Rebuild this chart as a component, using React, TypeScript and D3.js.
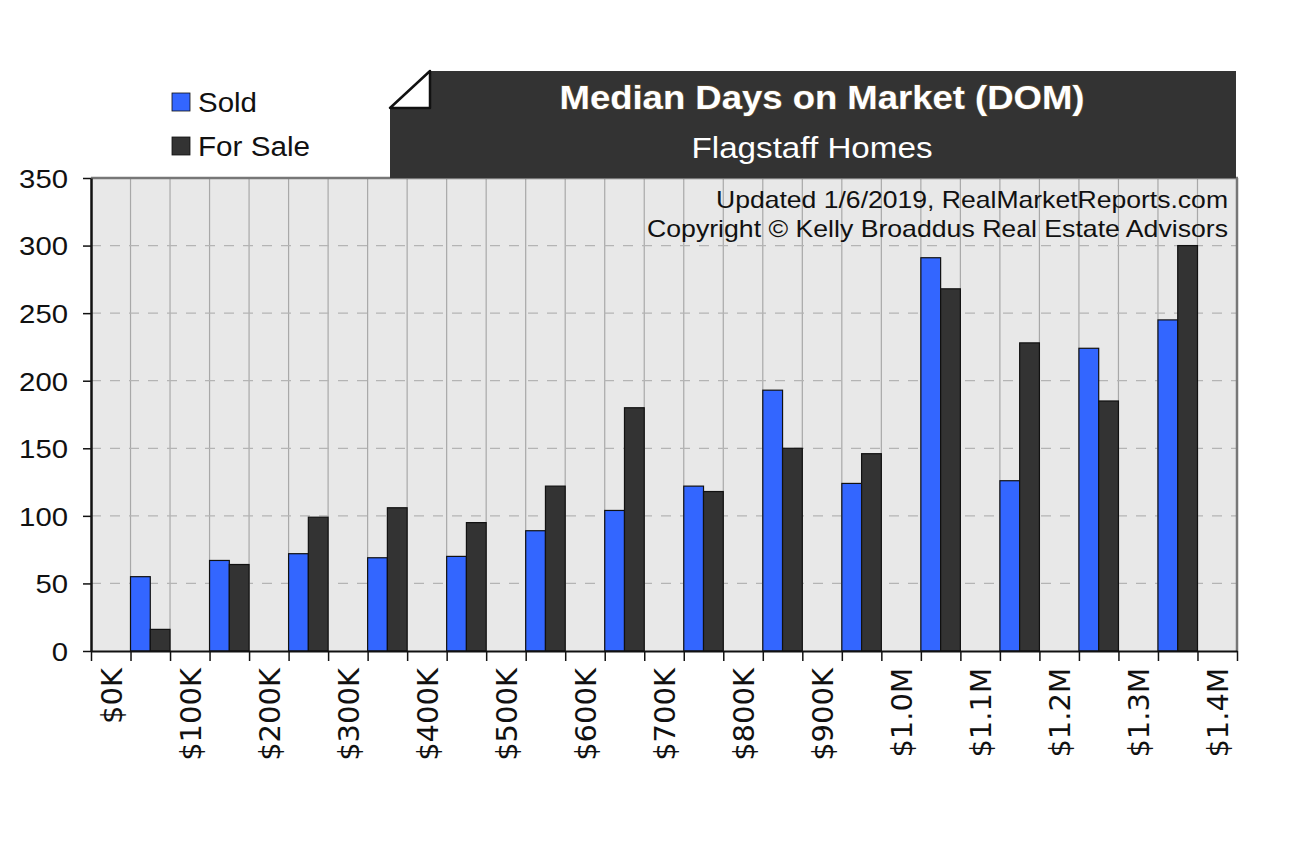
import React, { useEffect, useRef } from 'react';
import * as d3 from 'd3';

// price buckets (lower bound in $K), one bar pair per bucket
const buckets = [0, 100, 200, 300, 400, 500, 600, 700, 800, 900, 1000, 1100, 1200, 1300];
const soldDays = [55, 67, 72, 69, 70, 89, 104, 122, 193, 124, 291, 126, 224, 245];
const forSaleDays = [16, 64, 99, 106, 95, 122, 180, 118, 150, 146, 268, 228, 185, 300];
const tickLabels = ['$0K', '$100K', '$200K', '$300K', '$400K', '$500K', '$600K', '$700K',
    '$800K', '$900K', '$1.0M', '$1.1M', '$1.2M', '$1.3M', '$1.4M'];
const yTicks = [0, 50, 100, 150, 200, 250, 300, 350];

const FONT = '"Liberation Sans", Arial, sans-serif';
const XFONT = '"DejaVu Sans", sans-serif';

const App = () => {
    const chartRef = useRef<SVGSVGElement>(null);

    useEffect(() => {
        if (chartRef.current) {
            drawChart();
        }
    }, []);

    const drawChart = () => {
        const svg = d3.select(chartRef.current);
        svg.selectAll('*').remove();

        const left = 91, right = 1237, top = 178, bottom = 651;

        const x = d3.scaleLinear().domain([0, 1450]).range([left, right]);
        const y = d3.scaleLinear().domain([0, 350]).range([bottom, top]);

        // plot background
        svg.append('rect')
            .attr('x', left).attr('y', top)
            .attr('width', right - left).attr('height', bottom - top)
            .attr('fill', '#e8e8e8');

        // vertical grid every 50K
        const vGrid = d3.range(50, 1450, 50);
        svg.append('g')
            .selectAll('line')
            .data(vGrid)
            .enter()
            .append('line')
            .attr('x1', d => x(d)).attr('x2', d => x(d))
            .attr('y1', top).attr('y2', bottom)
            .attr('stroke', '#a8a8a8')
            .attr('stroke-width', 1.2);

        // horizontal dashed grid
        svg.append('g')
            .selectAll('line')
            .data(yTicks.filter(d => d > 0 && d < 350))
            .enter()
            .append('line')
            .attr('x1', left).attr('x2', right)
            .attr('y1', d => y(d)).attr('y2', d => y(d))
            .attr('stroke', '#b4b4b4')
            .attr('stroke-width', 1.2)
            .attr('stroke-dasharray', '10,9');

        // bars
        const bars = svg.append('g');
        bars.selectAll('rect.sold')
            .data(buckets)
            .enter()
            .append('rect')
            .attr('class', 'sold')
            .attr('x', d => x(d + 50))
            .attr('width', d => x(d + 75) - x(d + 50))
            .attr('y', (d, i) => y(soldDays[i]))
            .attr('height', (d, i) => bottom - y(soldDays[i]))
            .attr('fill', '#3366ff')
            .attr('stroke', '#111')
            .attr('stroke-width', 1.2);

        bars.selectAll('rect.forsale')
            .data(buckets)
            .enter()
            .append('rect')
            .attr('class', 'forsale')
            .attr('x', d => x(d + 75))
            .attr('width', d => x(d + 100) - x(d + 75))
            .attr('y', (d, i) => y(forSaleDays[i]))
            .attr('height', (d, i) => bottom - y(forSaleDays[i]))
            .attr('fill', '#333333')
            .attr('stroke', '#111')
            .attr('stroke-width', 1.2);

        // frame: grey top and right, black left and bottom axes
        svg.append('line')
            .attr('x1', left).attr('x2', right + 1)
            .attr('y1', top).attr('y2', top)
            .attr('stroke', '#777').attr('stroke-width', 2.5);
        svg.append('line')
            .attr('x1', right).attr('x2', right)
            .attr('y1', top).attr('y2', bottom)
            .attr('stroke', '#777').attr('stroke-width', 2.5);

        const yAxis = d3.axisLeft(y).tickValues(yTicks).tickSize(8).tickSizeOuter(0).tickFormat(d3.format('d'));
        const gy = svg.append('g').attr('transform', `translate(${left},0)`).call(yAxis);
        gy.select('.domain').attr('stroke', '#111').attr('stroke-width', 2.5);
        gy.selectAll('line').attr('stroke', '#111').attr('stroke-width', 1.5);
        gy.selectAll('text')
            .attr('font-family', FONT)
            .attr('font-size', 26)
            .attr('fill', '#111')
            .attr('x', -23)
            .attr('dy', '0.36em')
            .attr('textLength', d => String(d).length * 16.3)
            .attr('lengthAdjust', 'spacingAndGlyphs');

        const xAxis = d3.axisBottom(x).tickValues(d3.range(0, 1451, 50)).tickSize(10).tickSizeOuter(0).tickFormat(() => '');
        const gx = svg.append('g').attr('transform', `translate(0,${bottom})`).call(xAxis);
        gx.select('.domain').attr('stroke', '#111').attr('stroke-width', 2);
        gx.selectAll('line').attr('stroke', '#111').attr('stroke-width', 1.5);

        svg.append('g')
            .selectAll('text')
            .data(tickLabels)
            .enter()
            .append('text')
            .attr('transform', (d, i) => `translate(${x(i * 100 + 25) + 11},${bottom + 17}) rotate(-90)`)
            .attr('text-anchor', 'end')
            .attr('font-family', XFONT)
            .attr('font-size', 29)
            .attr('fill', '#111')
            .text(d => d);

        const label = (txt: string, tx: number, ty: number, size: number, len: number,
            anchor: string, fill = '#111', weight = 'normal') =>
            svg.append('text')
                .attr('x', tx).attr('y', ty)
                .attr('text-anchor', anchor)
                .attr('font-family', FONT).attr('font-size', size).attr('font-weight', weight)
                .attr('fill', fill)
                .attr('textLength', len)
                .attr('lengthAdjust', 'spacingAndGlyphs')
                .text(txt);

        // credit text
        label('Updated 1/6/2019, RealMarketReports.com', 1228, 208, 24, 512, 'end');
        label('Copyright © Kelly Broaddus Real Estate Advisors', 1228, 237, 24, 581, 'end');

        // title tab with folded corner
        svg.append('path')
            .attr('d', 'M430,71 L1236,71 L1236,178 L390,178 L390,108 Z')
            .attr('fill', '#333333');
        svg.append('path')
            .attr('d', 'M390,108 L430,108 L430,71 Z')
            .attr('fill', '#ffffff')
            .attr('stroke', '#111')
            .attr('stroke-width', 2.5)
            .attr('stroke-linejoin', 'round');

        label('Median Days on Market (DOM)', 822, 109, 34, 525, 'middle', '#ffffff', 'bold')
            .style('paint-order', 'stroke')
            .attr('stroke', '#5a4a30').attr('stroke-width', 1.5);
        label('Flagstaff Homes', 812, 158, 29, 241, 'middle', '#ffffff');

        // legend
        const legendData = [
            { name: 'Sold', color: '#3366ff', len: 59 },
            { name: 'For Sale', color: '#333333', len: 112 },
        ];
        const legend = svg.append('g').attr('transform', 'translate(172,93)');
        legend.selectAll('rect')
            .data(legendData)
            .enter()
            .append('rect')
            .attr('y', (d, i) => i * 44)
            .attr('width', 18)
            .attr('height', 18)
            .attr('fill', d => d.color)
            .attr('stroke', '#111')
            .attr('stroke-width', 0.8);
        legend.selectAll('text')
            .data(legendData)
            .enter()
            .append('text')
            .attr('x', 26)
            .attr('y', (d, i) => i * 44 + 19)
            .attr('font-family', FONT)
            .attr('font-size', 27)
            .attr('fill', '#111')
            .attr('textLength', d => d.len)
            .attr('lengthAdjust', 'spacingAndGlyphs')
            .text(d => d.name);
    };

    return (
        <svg
            ref={chartRef}
            width="1305"
            height="850"
            style={{ position: 'absolute', left: 0, top: 0, background: '#fff' }}
        />
    );
};

export default App;
